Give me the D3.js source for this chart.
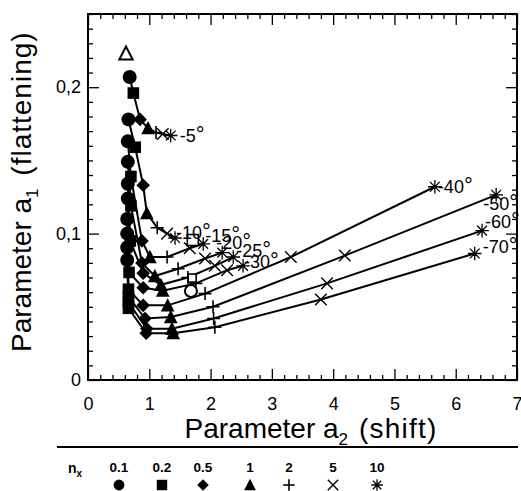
<!DOCTYPE html>
<html><head><meta charset="utf-8">
<script src="https://cdn.jsdelivr.net/npm/d3@7"></script>
<style>
body{margin:0;background:#fff}
svg{display:block;font-family:"Liberation Sans",Arial,Helvetica,sans-serif}
</style></head><body>
<svg id="chart" width="521" height="491"></svg>
<script>
// ---------- data ----------
const nx = [0.1, 0.2, 0.5, 1, 2, 5, 10];
const nxLabels = ["0.1", "0.2", "0.5", "1", "2", "5", "10"];
const markerTypes = ["circle", "square", "diamond", "triangle", "plus", "cross", "star"];
const angleLabels = ["-5", "-10", "-15", "-20", "-25", "-30", "-40", "-50", "-60", "-70"];

// a2 (shift) and a1 (flattening) per angle, ordered by nx
const a2_5  = [0.68, 0.74, 0.85, 0.98, 1.11, 1.22, 1.35];
const a1_5  = [0.207, 0.196, 0.178, 0.172, 0.169, 0.168, 0.167];
const a2_10 = [0.66, 0.77, 0.90, 0.96, 1.13, 1.29, 1.42];
const a1_10 = [0.178, 0.159, 0.133, 0.114, 0.104, 0.100, 0.097];
const a2_15 = [0.65, 0.70, 0.88, 1.01, 1.29, 1.66, 1.88];
const a1_15 = [0.163, 0.139, 0.095, 0.084, 0.084, 0.090, 0.093];
const a2_20 = [0.65, 0.70, 0.88, 1.09, 1.47, 1.91, 2.19];
const a1_20 = [0.149, 0.119, 0.080, 0.071, 0.076, 0.083, 0.087];
const a2_25 = [0.65, 0.69, 0.90, 1.19, 1.63, 2.07, 2.37];
const a1_25 = [0.134, 0.095, 0.073, 0.065, 0.070, 0.078, 0.084];
const a2_30 = [0.65, 0.67, 0.90, 1.22, 1.76, 2.27, 2.53];
const a1_30 = [0.124, 0.0735, 0.063, 0.061, 0.066, 0.075, 0.078];
const a2_40 = [0.64, 0.66, 0.90, 1.30, 1.91, 3.31, 5.66];
const a1_40 = [0.110, 0.062, 0.051, 0.051, 0.059, 0.084, 0.132];
const a2_50 = [0.64, 0.66, 0.93, 1.35, 2.04, 4.19, 6.66];
const a1_50 = [0.100, 0.057, 0.042, 0.043, 0.050, 0.085, 0.1265];
const a2_60 = [0.64, 0.66, 0.96, 1.37, 2.05, 3.90, 6.43];
const a1_60 = [0.0905, 0.053, 0.035, 0.035, 0.042, 0.066, 0.102];
const a2_70 = [0.64, 0.66, 0.95, 1.39, 2.07, 3.80, 6.31];
const a1_70 = [0.082, 0.049, 0.032, 0.032, 0.036, 0.055, 0.0864];

// extra open reference markers
const openTypes = ["triangle", "square", "squareSmall", "circle"];
const openA2 = [0.62, 1.71, 1.70, 1.68];
const openA1 = [0.223, 0.0956, 0.0696, 0.0608];

const xTicks = [0, 1, 2, 3, 4, 5, 6, 7];
const yTicks = [0, 0.1, 0.2];
const yTickLabels = ["0", "0,1", "0,2"];

// ---------- layout / style ----------
const a2Series = [a2_5, a2_10, a2_15, a2_20, a2_25, a2_30, a2_40, a2_50, a2_60, a2_70];
const a1Series = [a1_5, a1_10, a1_15, a1_20, a1_25, a1_30, a1_40, a1_50, a1_60, a1_70];
const labelOffsets = [[9,6],[1,1],[2,-2],[-6,-4],[3,0],[1,2],[3,6],[-13,15],[3,-3],[8,-1]];

const svg = d3.select("#chart");
const L = 88, R = 517, T = 14, B = 380;
const x = d3.scaleLinear().domain([0, 7]).range([L, R]);
const y = d3.scaleLinear().domain([0, 0.25]).range([B, T]);

const xMinor = d3.range(0, 7.001, 0.2).filter(v => Math.abs(v - Math.round(v)) > 1e-6);
const yMinor = d3.range(0, 0.2501, 0.01).filter(v => Math.abs(v * 10 - Math.round(v * 10)) > 1e-6);

function axisGroup(axis, tx, ty) {
  const g = svg.append("g").attr("transform", `translate(${tx},${ty})`).call(axis);
  g.select(".domain").remove();
  g.selectAll("line").attr("stroke", "#000").attr("stroke-width", 1.3);
  g.selectAll("text").attr("font-size", 18).attr("fill", "#000").attr("font-family", null);
  return g;
}
// bottom
axisGroup(d3.axisBottom(x).tickValues(xMinor).tickSize(-5).tickSizeOuter(0).tickFormat(""), 0, B);
axisGroup(d3.axisBottom(x).tickValues(xTicks).tickSize(-11).tickSizeOuter(0).tickPadding(17).tickFormat(d3.format("d")), 0, B);
// top
axisGroup(d3.axisTop(x).tickValues(xMinor).tickSize(-5).tickSizeOuter(0).tickFormat(""), 0, T);
axisGroup(d3.axisTop(x).tickValues(xTicks).tickSize(-11).tickSizeOuter(0).tickFormat(""), 0, T);
// left
axisGroup(d3.axisLeft(y).tickValues(yMinor).tickSize(-5).tickSizeOuter(0).tickFormat(""), L, 0);
axisGroup(d3.axisLeft(y).tickValues(yTicks).tickSize(-11).tickSizeOuter(0).tickPadding(7).tickFormat((d, i) => yTickLabels[i]), L, 0);
// right
axisGroup(d3.axisRight(y).tickValues(yMinor).tickSize(-5).tickSizeOuter(0).tickFormat(""), R, 0);
axisGroup(d3.axisRight(y).tickValues(yTicks).tickSize(-11).tickSizeOuter(0).tickFormat(""), R, 0);

// frame
svg.append("rect").attr("x", L).attr("y", T).attr("width", R - L).attr("height", B - T)
  .attr("fill", "none").attr("stroke", "#000").attr("stroke-width", 2);

// lines
const line = d3.line().x(d => x(d[0])).y(d => y(d[1]));
const series = a2Series.map((xs, i) => xs.map((v, j) => [v, a1Series[i][j]]));
svg.append("g").selectAll("path").data(series).join("path")
  .attr("d", line).attr("fill", "none").attr("stroke", "#000").attr("stroke-width", 2);

// markers
const plotSize = {circle: 7, square: 5.8, diamond: 6.8, triangle: 7.2, plus: 6.5, cross: 5.8, star: 6.8};
const legSize = {circle: 5.4, square: 5.2, diamond: 5.8, triangle: 6.2, plus: 5.8, cross: 5.2, star: 5.8};
function marker(g, type, cx, cy, r, open) {
  const fill = open ? "#fff" : "#000";
  switch (type) {
    case "circle":
      g.append("circle").attr("cx", cx).attr("cy", cy).attr("r", open ? r - 1 : r)
        .attr("fill", fill).attr("stroke", "#000").attr("stroke-width", open ? 2 : 0);
      break;
    case "square":
      g.append("rect").attr("x", cx - r).attr("y", cy - r).attr("width", 2 * r).attr("height", 2 * r)
        .attr("fill", fill).attr("stroke", "#000").attr("stroke-width", open ? 1.6 : 0);
      break;
    case "diamond":
      g.append("path").attr("d", `M${cx},${cy - r}L${cx + r},${cy}L${cx},${cy + r}L${cx - r},${cy}Z`).attr("fill", fill);
      break;
    case "triangle":
      g.append("path").attr("d", `M${cx},${cy - r}L${cx + r * 0.95},${cy + r * 0.85}L${cx - r * 0.95},${cy + r * 0.85}Z`)
        .attr("fill", fill).attr("stroke", "#000").attr("stroke-width", open ? 2 : 0);
      break;
    case "plus":
      g.append("path").attr("d", `M${cx - r},${cy}H${cx + r}M${cx},${cy - r}V${cy + r}`)
        .attr("stroke", "#000").attr("stroke-width", 1.6);
      break;
    case "cross":
      g.append("path").attr("d", `M${cx - r},${cy - r}L${cx + r},${cy + r}M${cx - r},${cy + r}L${cx + r},${cy - r}`)
        .attr("stroke", "#000").attr("stroke-width", 1.4);
      break;
    case "star": {
      const d = r * 0.72;
      g.append("path").attr("d", `M${cx - r},${cy}H${cx + r}M${cx},${cy - r}V${cy + r}M${cx - d},${cy - d}L${cx + d},${cy + d}M${cx - d},${cy + d}L${cx + d},${cy - d}`)
        .attr("stroke", "#000").attr("stroke-width", 1.3);
      break;
    }
  }
}
const mg = svg.append("g");
series.forEach(s => s.forEach((p, j) => marker(mg, markerTypes[j], x(p[0]), y(p[1]), plotSize[markerTypes[j]], false)));

// open markers
openTypes.forEach((t, i) => {
  const cx = x(openA2[i]), cy = y(openA1[i]);
  if (t === "squareSmall") marker(mg, "square", cx, cy, 4, true);
  else if (t === "square") marker(mg, "square", cx, cy, 5.5, true);
  else marker(mg, t, cx, cy, 7, true);
});

// angle labels
const lg = svg.append("g").attr("font-size", 18).attr("fill", "#000");
angleLabels.forEach((lab, i) => {
  const s = series[i], last = s[s.length - 1];
  const t = lg.append("text").attr("x", x(last[0]) + labelOffsets[i][0]).attr("y", y(last[1]) + labelOffsets[i][1]);
  t.append("tspan").text(lab);
  t.append("tspan").attr("font-size", 22).text("°");
});

// axis titles
const xt = svg.append("text").attr("x", 311).attr("y", 438).attr("text-anchor", "middle")
  .attr("font-size", 28).attr("fill", "#000");
xt.append("tspan").text("Parameter a");
xt.append("tspan").attr("font-size", 17).attr("dy", 7).text("2");
xt.append("tspan").attr("dy", -7).attr("dx", 2).attr("letter-spacing", 1.2).text(" (shift)");

const yt = svg.append("text").attr("transform", "translate(31,352) rotate(-90)")
  .attr("font-size", 28).attr("fill", "#000");
yt.append("tspan").text("Parameter a");
yt.append("tspan").attr("font-size", 17).attr("dy", 7).text("1");
yt.append("tspan").attr("dy", -7).attr("dx", 4).attr("letter-spacing", 1).text("  (flattening)");

// legend
svg.append("line").attr("x1", 57).attr("x2", 518).attr("y1", 447).attr("y2", 447)
  .attr("stroke", "#000").attr("stroke-width", 2);
const legX = [119, 162, 203, 250, 289, 333, 377];
const leg = svg.append("g");
const nt = leg.append("text").attr("x", 68).attr("y", 473).attr("font-size", 14).attr("font-weight", "bold");
nt.append("tspan").text("n");
nt.append("tspan").attr("font-size", 10).attr("dy", 4).text("x");
nxLabels.forEach((lab, i) => {
  leg.append("text").attr("x", legX[i]).attr("y", 472).attr("text-anchor", "middle")
    .attr("font-size", 13.5).attr("font-weight", "bold").text(lab);
  marker(leg, markerTypes[i], legX[i], 485, legSize[markerTypes[i]], false);
});
</script>
</body></html>
